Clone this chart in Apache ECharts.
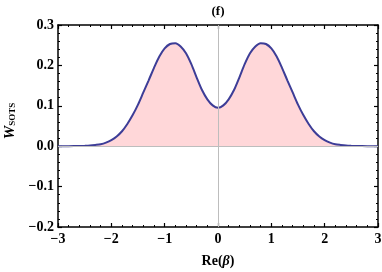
<!DOCTYPE html>
<html>
<head>
<meta charset="utf-8">
<script src="https://cdn.jsdelivr.net/npm/echarts@6/dist/echarts.min.js"></script>
<style>html,body{margin:0;padding:0;background:#fff}#c{width:382px;height:272px}</style>
</head>
<body>
<div id="c"></div>
<script>
// beta values (Re) and W_SOTS readings
const xs = [-3.0,-2.8,-2.6,-2.5,-2.4,-2.3,-2.2,-2.1,-2.0,-1.9,-1.8,-1.7,-1.6,-1.5,-1.4,-1.3,-1.2,-1.1,-1.0,-0.9,-0.8,-0.7,-0.6,-0.5,-0.4,-0.3,-0.2,-0.1,0.0,0.1,0.2,0.3,0.4,0.5,0.6,0.7,0.8,0.9,1.0,1.1,1.2,1.3,1.4,1.5,1.6,1.7,1.8,1.9,2.0,2.1,2.2,2.3,2.4,2.5,2.6,2.8,3.0];
const ws = [0.0000,0.0001,0.0004,0.0008,0.0015,0.003,0.005,0.009,0.015,0.024,0.037,0.055,0.077,0.103,0.133,0.163,0.194,0.222,0.242,0.253,0.255,0.247,0.230,0.203,0.170,0.139,0.116,0.101,0.095,0.101,0.116,0.139,0.170,0.203,0.230,0.247,0.255,0.253,0.242,0.222,0.194,0.163,0.133,0.103,0.077,0.055,0.037,0.024,0.015,0.009,0.005,0.003,0.0015,0.0008,0.0004,0.0001,0.0000];
const xTicks = {min:-3, max:3, step:1};
const yTicks = {min:-0.2, max:0.3, step:0.1};
const titleText = '(f)';

const font = 'Liberation Serif';
const minus = s => String(s).replace('-', '\u2212');
const chart = echarts.init(document.getElementById('c'), null, {renderer:'canvas'});
const axisCommon = {
  type:'value',
  axisLine:{show:true, onZero:false, lineStyle:{color:'#000', width:1.5}},
  axisTick:{show:true, inside:true, length:4, lineStyle:{color:'#000', width:1.2}},
  minorTick:{show:true, splitNumber:5, length:2, lineStyle:{color:'#000', width:1}},
  splitLine:{show:false}
};
chart.setOption({
  animation:false,
  grid:{left:58, right:4, top:25, bottom:45, containLabel:false, outerBoundsMode:'none'},
  graphic:[{type:'text', x:218, y:5, style:{text:titleText, font:'bold 13px "Liberation Serif"', fill:'#000', textAlign:'center'}}],
  xAxis:[
    Object.assign({}, axisCommon, {position:'bottom', min:xTicks.min, max:xTicks.max, interval:xTicks.step,
      axisLabel:{show:true, margin:5, fontFamily:font, fontWeight:'bold', fontSize:14, color:'#000', formatter:v=>minus(v)},
      name:'{n|Re(}{b|β}{n|)}', nameLocation:'middle', nameGap:27,
      nameTextStyle:{rich:{n:{fontFamily:font, fontWeight:'bold', fontSize:14, color:'#000'}, b:{fontFamily:font, fontWeight:'bold', fontStyle:'italic', fontSize:14, color:'#000'}}}}),
    Object.assign({}, axisCommon, {position:'top', min:xTicks.min, max:xTicks.max, interval:xTicks.step, axisLabel:{show:false}})
  ],
  yAxis:[
    Object.assign({}, axisCommon, {position:'left', min:yTicks.min, max:yTicks.max, interval:yTicks.step,
      axisLabel:{show:true, margin:4, fontFamily:font, fontWeight:'bold', fontSize:14, color:'#000', formatter:v=>minus(v.toFixed(1))},
      name:'{w|W}{s|SOTS}', nameLocation:'middle', nameGap:39, nameRotate:90,
      nameTextStyle:{padding:[0,0,0,10], rich:{w:{fontFamily:font, fontWeight:'bold', fontStyle:'italic', fontSize:15, color:'#000'}, s:{fontFamily:font, fontWeight:'bold', fontSize:9, color:'#000', verticalAlign:'bottom', padding:[6,0,0,0]}}}}),
    Object.assign({}, axisCommon, {position:'right', min:yTicks.min, max:yTicks.max, interval:yTicks.step, axisLabel:{show:false}})
  ],
  series:[{
    type:'line', xAxisIndex:0, yAxisIndex:0,
    data: xs.map((x,i)=>[x, ws[i]]),
    smooth:0.3, showSymbol:false, symbol:'none',
    lineStyle:{color:'#3d3d97', width:2},
    areaStyle:{color:'#ffd7d9', opacity:1, origin:0},
    z:3,
    markLine:{silent:true, symbol:'none', label:{show:false}, lineStyle:{color:'#bdbdbd', width:1, type:'solid'},
      data:[{xAxis:0},{yAxis:0}], z:4}
  }]
});
</script>
</body>
</html>
